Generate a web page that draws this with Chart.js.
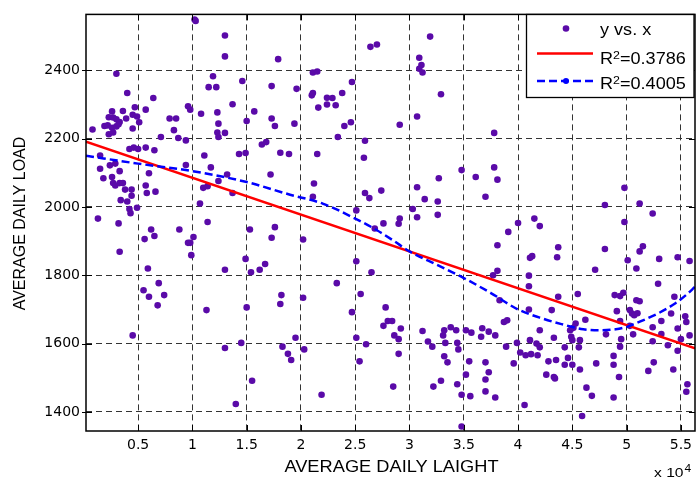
<!DOCTYPE html>
<html>
<head>
<meta charset="utf-8">
<title>Average daily load vs light</title>
<script src="https://cdn.jsdelivr.net/npm/chart.js@4.4.0/dist/chart.umd.min.js"></script>
<style>
  body { margin: 0; background: #fff; }
  #wrap { width: 699px; height: 479px; }
</style>
</head>
<body>
<div id="wrap"><canvas id="scatterChart" width="699" height="479"></canvas></div>
<script>
// light values are in units of 10^4 (the axis carries the "x 10^4" note)
const lightX = [
  1.02, 1.03, 1.30, 1.30, 1.79, 0.30, 1.19, 1.46, 1.15, 1.22, 1.73, 1.96, 0.40, 0.64, 1.37, 0.96,
  0.98, 0.26, 0.36, 0.47, 0.57, 1.08, 1.23, 1.57, 0.23, 0.27, 0.30, 0.33, 0.39, 0.45, 0.49, 0.51,
  0.79, 0.85, 1.24, 1.50, 1.73, 1.76, 1.94, 0.08, 0.19, 0.22, 0.26, 0.30, 0.32, 0.45, 0.83, 0.23,
  0.27, 1.23, 1.30, 0.71, 0.87, 0.94, 1.24, 1.64, 1.68, 0.42, 0.46, 0.50, 0.57, 0.65, 0.15, 1.11,
  1.43, 1.49, 1.81, 1.89, 0.24, 0.29, 0.94, 1.17, 0.15, 0.33, 0.60, 1.32, 1.72, 0.26, 0.18, 1.24,
  0.27, 0.29, 0.33, 0.36, 0.57, 1.14, 1.10, 0.38, 0.44, 1.37, 0.58, 0.66, 0.44, 0.34, 0.40, 1.07,
  0.42, 0.49, 0.43, 0.13, 0.32, 1.14, 0.62, 0.65, 0.56, 0.88, 1.01, 1.53, 1.76, 1.73, 0.96, 0.98,
  0.99, 0.33, 0.59, 0.69, 0.55, 0.60, 0.74, 0.68, 0.45, 1.13, 1.30, 1.49, 1.54, 1.62, 1.67, 1.50,
  1.82, 1.81, 1.95, 1.30, 1.45, 1.83, 1.88, 1.91, 1.55, 1.40,
  3.19, 2.64, 2.70, 3.09, 3.11, 3.09, 3.12, 2.11, 2.15, 2.47, 2.10, 2.11, 2.24, 2.29, 2.38, 3.29,
  2.16, 2.24, 2.32, 3.07, 2.40, 2.46, 2.91, 2.34, 2.59, 3.78, 2.15, 2.58, 3.48, 3.78, 3.61, 3.81,
  3.27, 3.07, 2.12, 2.11, 2.59, 2.63, 2.74, 3.14, 3.26, 3.70, 2.51, 3.03, 3.07, 3.26, 2.76, 2.68,
  2.91, 2.90, 2.02, 3.91,
  2.51, 2.65, 2.33, 2.02, 2.55, 2.47, 2.78, 2.80, 2.84, 2.76, 2.92, 2.51, 2.86, 2.90, 2.60, 2.03,
  2.54, 2.90, 3.12, 3.17, 3.21, 3.32, 3.31, 3.38, 3.33, 3.32, 3.35, 3.44, 3.45, 3.43, 3.52, 3.57,
  3.67, 3.73, 3.66, 3.79, 3.89, 3.87, 3.90, 3.77, 3.81, 3.81, 3.55, 3.70, 3.73, 3.70, 3.52, 3.44,
  3.29, 3.22, 2.85, 3.48, 3.56, 3.70, 3.79, 2.19, 3.48,
  4.98, 4.80, 5.12, 5.24, 4.15, 4.20, 4.00, 4.98, 4.37, 4.36, 4.13, 4.11, 4.80, 5.15, 5.12, 5.01,
  5.30, 5.47, 5.58, 5.09, 4.71, 4.10, 4.10, 5.29, 4.55, 4.37, 4.89, 4.94, 4.97, 5.09, 5.12, 5.44,
  3.83, 4.31, 4.10, 4.91, 5.03, 5.05, 5.10, 5.07, 5.41, 4.62, 5.54, 5.55, 4.94, 5.32, 4.53, 4.51,
  4.48, 5.24, 5.47, 5.03, 4.20, 5.32, 4.81, 5.06, 5.58, 4.33, 4.49, 4.50, 4.57, 4.95, 5.24, 5.50,
  3.99, 4.11, 4.17, 4.20, 4.43, 4.56, 4.94, 5.38, 5.47, 4.02, 4.07, 4.12, 4.18, 4.46, 4.88, 4.28,
  4.35, 3.96, 4.43, 4.50, 4.72, 4.88, 4.57, 5.25, 5.20, 5.43, 4.26, 4.33, 4.34, 4.93, 5.56, 5.55,
  4.63, 4.68, 4.88, 4.06, 4.59
];
const loadY = [
  2549, 2545, 2502, 2441, 2433, 2390, 2383, 2369, 2351, 2351, 2354, 2346, 2334, 2319, 2301, 2295,
  2285, 2280, 2281, 2292, 2285, 2273, 2277, 2280, 2263, 2262, 2257, 2249, 2259, 2270, 2265, 2248,
  2259, 2259, 2244, 2252, 2259, 2237, 2244, 2227, 2237, 2239, 2232, 2236, 2242, 2230, 2225, 2213,
  2218, 2218, 2217, 2205, 2202, 2195, 2205, 2183, 2190, 2170, 2174, 2170, 2174, 2166, 2151, 2151,
  2155, 2158, 2159, 2155, 2122, 2127, 2123, 2116, 2112, 2105, 2099, 2095, 2095, 2088, 2084, 2076,
  2070, 2063, 2070, 2070, 2063, 2061, 2056, 2051, 2051, 2041, 2041, 2045, 2033, 2020, 2016, 2010,
  1994, 1998, 1982, 1966, 1952, 1956, 1934, 1915, 1906, 1934, 1912, 1934, 1941, 1910, 1895, 1895,
  1859, 1869, 1820, 1777, 1756, 1737, 1742, 1712, 1624, 1698, 1816, 1848, 1809, 1816, 1833, 1706,
  1742, 1716, 1617, 1587, 1602, 1591, 1570, 1552, 1491, 1423,
  2499, 2469, 2476, 2437, 2416, 2405, 2394, 2394, 2397, 2366, 2327, 2334, 2320, 2319, 2334, 2330,
  2291, 2300, 2298, 2265, 2237, 2248, 2241, 2205, 2194, 2217, 2155, 2144, 2108, 2116, 2088, 2080,
  2084, 2058, 2069, 2030, 2041, 2026, 2048, 2023, 2016, 2030, 1990, 1994, 1970, 1977, 1952, 1937,
  1966, 1951, 1905, 1927,
  1841, 1809, 1777, 1734, 1745, 1692, 1706, 1666, 1666, 1652, 1644, 1617, 1624, 1613, 1598, 1583,
  1548, 1570, 1637, 1606, 1591, 1639, 1624, 1648, 1602, 1563, 1545, 1602, 1583, 1639, 1639, 1632,
  1645, 1635, 1620, 1624, 1591, 1663, 1668, 1800, 1813, 1888, 1548, 1545, 1516, 1495, 1509, 1481,
  1491, 1474, 1474, 1450, 1446, 1460, 1442, 1450, 1357,
  2056, 2006, 2010, 1981, 1966, 1944, 1953, 1956, 1882, 1853, 1856, 1851, 1877, 1885, 1870, 1844,
  1848, 1853, 1842, 1820, 1816, 1799, 1768, 1775, 1745, 1737, 1742, 1739, 1749, 1727, 1724, 1737,
  1727, 1698, 1700, 1695, 1698, 1688, 1689, 1683, 1688, 1670, 1680, 1663, 1666, 1666, 1659, 1646,
  1639, 1648, 1644, 1652, 1639, 1628, 1627, 1627, 1624, 1617, 1620, 1610, 1610, 1613, 1607, 1613,
  1602, 1610, 1600, 1589, 1589, 1589, 1591, 1595, 1579, 1574, 1566, 1569, 1566, 1558, 1564, 1548,
  1552, 1542, 1538, 1538, 1542, 1538, 1524, 1545, 1520, 1524, 1509, 1502, 1498, 1502, 1481, 1459,
  1471, 1447, 1442, 1420, 1388
];

// fitted curves
const linFitX = [0.02, 5.63];
const linFitY = [2191, 1586];
const polyFitX = [0.02, 0.5, 1.0, 1.5, 1.9, 2.2, 2.5, 2.7, 2.85, 3.0, 3.25, 3.5, 3.75, 4.0,
                  4.2, 4.4, 4.6, 4.75, 4.9, 5.0, 5.15, 5.3, 5.45, 5.55, 5.63];
const polyFitY = [2150, 2127, 2105, 2073, 2036, 2010, 1966, 1932, 1902, 1870, 1831, 1792, 1748, 1700,
                  1676, 1657, 1642, 1639, 1642, 1649, 1668, 1690, 1718, 1743, 1766];

const xTicks = [0.5, 1, 1.5, 2, 2.5, 3, 3.5, 4, 4.5, 5, 5.5];
const yTicks = [1400, 1600, 1800, 2000, 2200, 2400];
const legendNames = ['y vs. x', '0.3786', '0.4005'];

const dotColor = '#5a0aa8';
const textFont = '"Liberation Sans", Arial, sans-serif';

function stretchText(ctx, str, x, y, size, sx) {
  ctx.save();
  ctx.font = size + 'px ' + textFont;
  ctx.translate(x, y);
  ctx.scale(sx, 1);
  ctx.fillText(str, 0, 0);
  const w = ctx.measureText(str).width * sx;
  ctx.restore();
  return w;
}

function rSquared(ctx, value, x, y) {
  let w = stretchText(ctx, 'R', x, y, 16, 1.13);
  w += stretchText(ctx, '2', x + w, y - 4.5, 11, 1.13);
  stretchText(ctx, '=' + value, x + w, y, 16, 1.13);
}

// frame, inner ticks, axis titles and the boxed legend
const matlabBits = {
  id: 'matlabBits',
  afterDraw(chart) {
    const { ctx, chartArea: a, scales: { x, y } } = chart;
    ctx.save();
    ctx.strokeStyle = '#000';
    ctx.lineWidth = 1;
    ctx.beginPath();
    xTicks.forEach(v => {
      const px = Math.round(x.getPixelForValue(v)) + 0.5;
      ctx.moveTo(px, a.bottom); ctx.lineTo(px, a.bottom - 6);
      ctx.moveTo(px, a.top); ctx.lineTo(px, a.top + 6);
    });
    yTicks.forEach(v => {
      const py = Math.round(y.getPixelForValue(v)) + 0.5;
      ctx.moveTo(a.left - 4, py); ctx.lineTo(a.left + 6, py);
      ctx.moveTo(a.right, py); ctx.lineTo(a.right - 6, py);
    });
    ctx.stroke();
    ctx.lineWidth = 1.5;
    ctx.strokeRect(a.left, a.top, a.right - a.left, a.bottom - a.top);

    // axis titles
    ctx.fillStyle = '#000';
    ctx.textBaseline = 'alphabetic';
    ctx.font = '16px ' + textFont;
    const xt = 'AVERAGE DAILY LAIGHT';
    const xw = ctx.measureText(xt).width * 1.14;
    stretchText(ctx, xt, 391.5 - xw / 2, 471.5, 16, 1.14);
    ctx.save();
    ctx.translate(25, 223.5);
    ctx.rotate(-Math.PI / 2);
    ctx.textAlign = 'center';
    ctx.font = '16px ' + textFont;
    ctx.fillText('AVERAGE DAILY LOAD', 0, 0);
    ctx.restore();
    const ew = stretchText(ctx, 'x 10', 654, 477, 13, 1.2);
    stretchText(ctx, '4', 654 + ew + 1, 472, 10, 1.2);

    // legend box
    ctx.fillStyle = '#fff';
    ctx.fillRect(526, 14, 168, 84);
    ctx.lineWidth = 1.3;
    ctx.strokeStyle = '#000';
    ctx.strokeRect(526.5, 14.5, 167.5, 83);
    ctx.fillStyle = dotColor;
    ctx.beginPath(); ctx.arc(566, 28.5, 3.3, 0, Math.PI * 2); ctx.fill();
    ctx.strokeStyle = '#ff0000';
    ctx.lineWidth = 2.5;
    ctx.beginPath(); ctx.moveTo(537, 53.5); ctx.lineTo(593, 53.5); ctx.stroke();
    ctx.strokeStyle = '#0000ff';
    ctx.setLineDash([8, 4]);
    ctx.beginPath(); ctx.moveTo(537, 81); ctx.lineTo(593, 81); ctx.stroke();
    ctx.setLineDash([]);
    ctx.fillStyle = '#0000ff';
    ctx.beginPath(); ctx.arc(566, 81, 3, 0, Math.PI * 2); ctx.fill();
    ctx.fillStyle = '#000';
    stretchText(ctx, legendNames[0], 600, 34.5, 16, 1.13);
    rSquared(ctx, legendNames[1], 600, 63.5);
    rSquared(ctx, legendNames[2], 600, 88.5);
    ctx.restore();
  }
};

const gridOpts = { color: '#333', lineWidth: 1, drawTicks: false };
const tickFont = { family: 'DejaVu Sans', size: 14 };

new Chart(document.getElementById('scatterChart').getContext('2d'), {
  type: 'scatter',
  data: {
    datasets: [
      {
        label: legendNames[0],
        data: lightX.map((v, i) => ({ x: v, y: loadY[i] })),
        backgroundColor: dotColor,
        borderWidth: 0,
        pointRadius: 3.3,
        order: 2
      },
      {
        label: 'R2=' + legendNames[1],
        data: linFitX.map((v, i) => ({ x: v, y: linFitY[i] })),
        showLine: true,
        borderColor: '#ff0000',
        borderWidth: 2.5,
        pointRadius: 0,
        order: 1
      },
      {
        label: 'R2=' + legendNames[2],
        data: polyFitX.map((v, i) => ({ x: v, y: polyFitY[i] })),
        showLine: true,
        borderColor: '#0000ff',
        borderWidth: 2.5,
        borderDash: [8, 4],
        cubicInterpolationMode: 'monotone',
        pointRadius: 0,
        order: 0
      }
    ]
  },
  options: {
    responsive: false,
    animation: false,
    layout: { padding: { top: 14, right: 2, left: 0, bottom: 0 } },
    plugins: { legend: { display: false }, tooltip: { enabled: false } },
    scales: {
      x: {
        type: 'linear',
        min: 0.02,
        max: 5.63,
        afterBuildTicks: s => { s.ticks = xTicks.map(v => ({ value: v })); },
        afterFit: s => { s.height = 48; },
        grid: gridOpts,
        border: { display: false, dash: [6, 4] },
        ticks: { color: '#000', font: tickFont, padding: 6, maxRotation: 0, callback: v => String(v) }
      },
      y: {
        type: 'linear',
        min: 1344,
        max: 2564,
        afterBuildTicks: s => { s.ticks = yTicks.map(v => ({ value: v })); },
        afterFit: s => { s.width = 86; },
        grid: gridOpts,
        border: { display: false, dash: [6, 4] },
        ticks: { color: '#000', font: tickFont, padding: 6, callback: v => String(v) }
      }
    }
  },
  plugins: [matlabBits]
});
</script>
</body>
</html>
